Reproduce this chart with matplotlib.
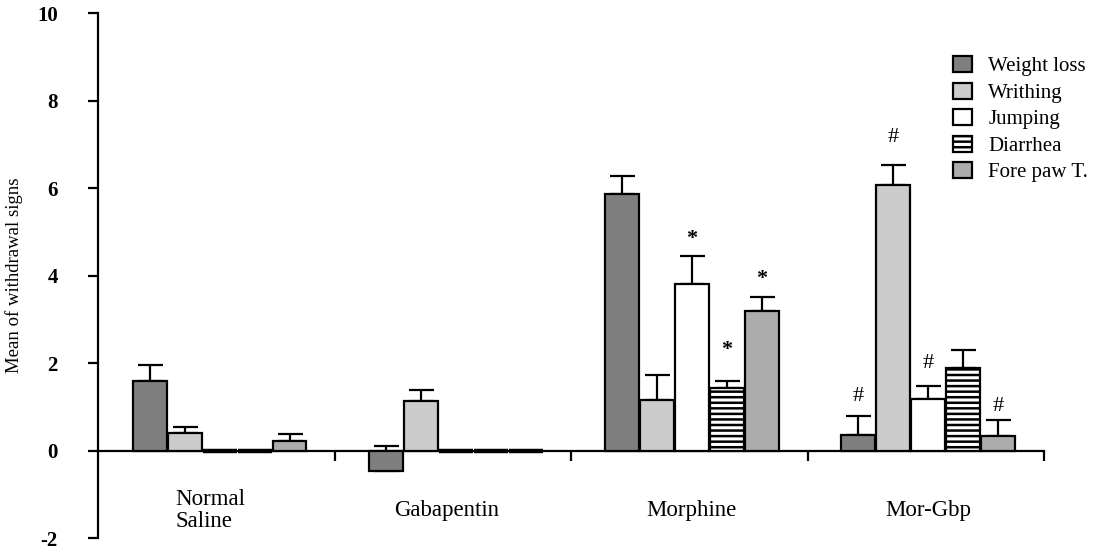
import numpy as np
import matplotlib
matplotlib.use("Agg")
import matplotlib.pyplot as plt
from matplotlib.patches import Patch

plt.rcParams["font.family"] = ["Liberation Serif", "DejaVu Serif"]
plt.rcParams["hatch.linewidth"] = 1.8
plt.rcParams["axes.unicode_minus"] = False

groups = ["Normal\nSaline", "Gabapentin", "Morphine", "Mor-Gbp"]
signs = ["Weight loss", "Writhing", "Jumping", "Diarrhea", "Fore paw T."]

# rows = groups, columns = signs
means = np.array([
    [1.59, 0.41, 0.00, 0.00, 0.23],
    [-0.47, 1.13, 0.00, 0.00, 0.00],
    [5.87, 1.16, 3.81, 1.43, 3.20],
    [0.36, 6.08, 1.18, 1.90, 0.34],
])
sems = np.array([
    [0.36, 0.13, 0.00, 0.00, 0.16],
    [0.58, 0.25, 0.00, 0.00, 0.00],
    [0.41, 0.56, 0.63, 0.16, 0.31],
    [0.43, 0.45, 0.29, 0.41, 0.36],
])
# significance marks: (group, sign, mark, y)
marks = [
    (2, 2, "*", 5.0), (2, 3, "*", 2.47), (2, 4, "*", 4.1),
    (3, 0, "#", 1.3), (3, 1, "#", 7.23), (3, 2, "#", 2.06), (3, 4, "#", 1.07),
]

colors = ["#7f7f7f", "#cccccc", "white", "white", "#acacac"]
hatches = [None, None, None, "---", None]

fig = plt.figure(figsize=(11.01, 5.52), dpi=100)
ax = fig.add_axes([0.089, 0.025, 0.859, 0.951])

w = 0.148
x = np.arange(len(groups))
for j in range(len(signs)):
    pos = x + (j - 2) * w
    lw = np.where(means[:, j] == 0, 3.2, 1.6)
    ax.bar(pos, means[:, j], width=w * 0.97, color=colors[j], edgecolor="black",
           linewidth=lw, hatch=hatches[j], zorder=3)
    has = sems[:, j] > 0
    ax.errorbar(pos[has], means[has, j], yerr=[np.zeros(has.sum()), sems[has, j]],
                fmt="none", ecolor="black", elinewidth=1.6, capsize=9,
                capthick=1.6, zorder=2)

for g, s, m, y in marks:
    px = x[g] + (s - 2) * w
    if m == "*":
        ax.text(px, y - 0.28, m, ha="center", va="baseline", fontsize=16,
                fontweight="bold")
    else:
        ax.text(px, y - 0.17, m, ha="center", va="baseline", fontsize=16)

for i, name in enumerate(groups):
    dx = -0.04 if i < 2 else 0.0
    ax.text(x[i] + dx, -1.37, name, ha="center", va="center", fontsize=16.5,
            linespacing=1.1, multialignment="left")

ax.set_xlim(-0.515, 3.49)
ax.set_ylim(-2, 10)
ax.set_yticks(np.arange(-2, 11, 2))
ax.set_xticks([0.49, 1.49, 2.49, 3.49])
ax.set_xticklabels([])
for lab in ax.get_yticklabels():
    lab.set_fontweight("bold")
ax.tick_params(axis="y", labelsize=15, length=7, width=1.6, direction="out", pad=22)
ax.tick_params(axis="x", length=7, width=1.6, direction="out")
ax.spines["top"].set_visible(False)
ax.spines["right"].set_visible(False)
ax.spines["bottom"].set_position(("data", 0))
ax.spines["left"].set_linewidth(1.6)
ax.spines["bottom"].set_linewidth(1.6)
ax.set_ylabel("Mean of withdrawal signs", fontsize=13.5, labelpad=10)

handles = [Patch(facecolor=colors[j], edgecolor="black", linewidth=1.6,
                 hatch=hatches[j], label=signs[j]) for j in range(len(signs))]
ax.legend(handles=handles, loc="upper left", bbox_to_anchor=(0.8565, 0.917),
          bbox_transform=fig.transFigure, frameon=False, fontsize=15,
          handlelength=0.87, handleheight=0.8, handletextpad=0.8,
          labelspacing=0.3, borderpad=0)

fig.savefig("out.png", dpi=100)
